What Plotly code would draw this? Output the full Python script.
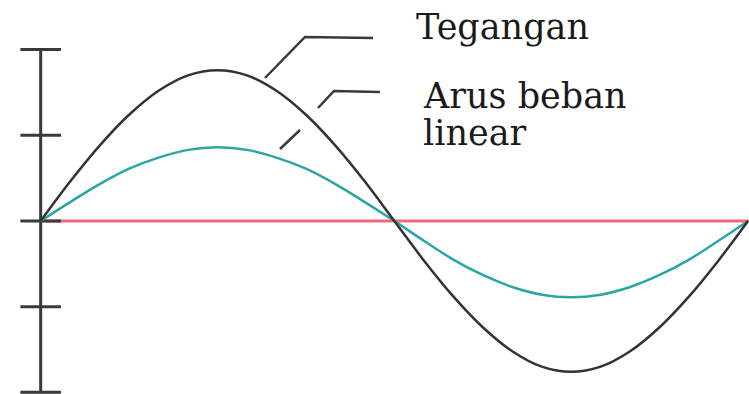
import plotly.graph_objects as go

# phase angle in degrees
angle_deg = [0, 15, 30, 45, 60, 75, 90, 105, 120, 135, 150, 165, 180,
             195, 210, 225, 240, 255, 270, 285, 300, 315, 330, 345, 360]
# voltage (Tegangan)
tegangan = [0, 0.46, 0.88, 1.24, 1.52, 1.70, 1.76, 1.70, 1.52, 1.24, 0.88, 0.46, 0,
            -0.46, -0.88, -1.24, -1.52, -1.70, -1.76, -1.70, -1.52, -1.24, -0.88, -0.46, 0]
# linear load current (Arus beban linear)
arus = [0, 0.22, 0.43, 0.61, 0.74, 0.83, 0.86, 0.83, 0.74, 0.61, 0.43, 0.22, 0,
        -0.23, -0.45, -0.63, -0.77, -0.86, -0.89, -0.86, -0.77, -0.63, -0.45, -0.23, 0]
# vertical axis tick values
tick_vals = [2, 1, 0, -1, -2]
labels = ["Tegangan", "Arus beban", "linear"]

W, H = 749, 394
XR = [-20.7, 360.5]
YR = [-2.019, 2.579]


def px(xp):
    return XR[0] + xp / W * (XR[1] - XR[0])


def py(yp):
    return YR[1] - yp / H * (YR[1] - YR[0])


AX = "#3a3a3a"
fig = go.Figure()

# zero reference line (red)
fig.add_trace(go.Scatter(x=[0, XR[1]], y=[0, 0], mode="lines",
                         line=dict(color="#f06a78", width=3), hoverinfo="skip"))
# vertical axis
fig.add_trace(go.Scatter(x=[0, 0], y=[tick_vals[0], tick_vals[-1]], mode="lines",
                         line=dict(color=AX, width=3), hoverinfo="skip"))
# tick marks crossing the axis
fig.add_trace(go.Scatter(x=[0] * len(tick_vals), y=tick_vals, mode="markers",
                         marker=dict(symbol="line-ew-open", size=29, color=AX,
                                     line=dict(color=AX, width=3)),
                         hoverinfo="skip", cliponaxis=False))
# current curve
fig.add_trace(go.Scatter(x=angle_deg, y=arus, mode="lines", line_shape="spline",
                         line=dict(color="#2aa6a6", width=2.5)))
# voltage curve
fig.add_trace(go.Scatter(x=angle_deg, y=tegangan, mode="lines", line_shape="spline",
                         line=dict(color="#333333", width=2.5)))

# leader lines
leaders = [
    [(265, 78), (305, 37), (373, 38)],
    [(280, 149), (300, 130)],
    [(318, 108), (334, 91), (380, 92)],
]
for pts in leaders:
    path = "M " + " L ".join(f"{px(a)},{py(b)}" for a, b in pts)
    fig.add_shape(type="path", path=path, xref="x", yref="y",
                  line=dict(color=AX, width=2.5))

font = dict(family="DejaVu Serif", size=35, color="#1a1a1a")
for text, (lx, ly) in zip(labels, [(414, 27), (421, 96), (421, 133)]):
    fig.add_annotation(x=px(lx), y=py(ly), text=text, showarrow=False,
                       xanchor="left", yanchor="middle", font=font)

fig.update_layout(
    width=W, height=H, margin=dict(l=0, r=0, t=0, b=0),
    plot_bgcolor="white", paper_bgcolor="white", showlegend=False,
    xaxis=dict(range=XR, visible=False, fixedrange=True),
    yaxis=dict(range=YR, visible=False, fixedrange=True),
)

fig.write_html("out.html", config={"displayModeBar": False},
               post_script="document.body.style.margin='0';"
                           "document.body.style.overflow='hidden';")
